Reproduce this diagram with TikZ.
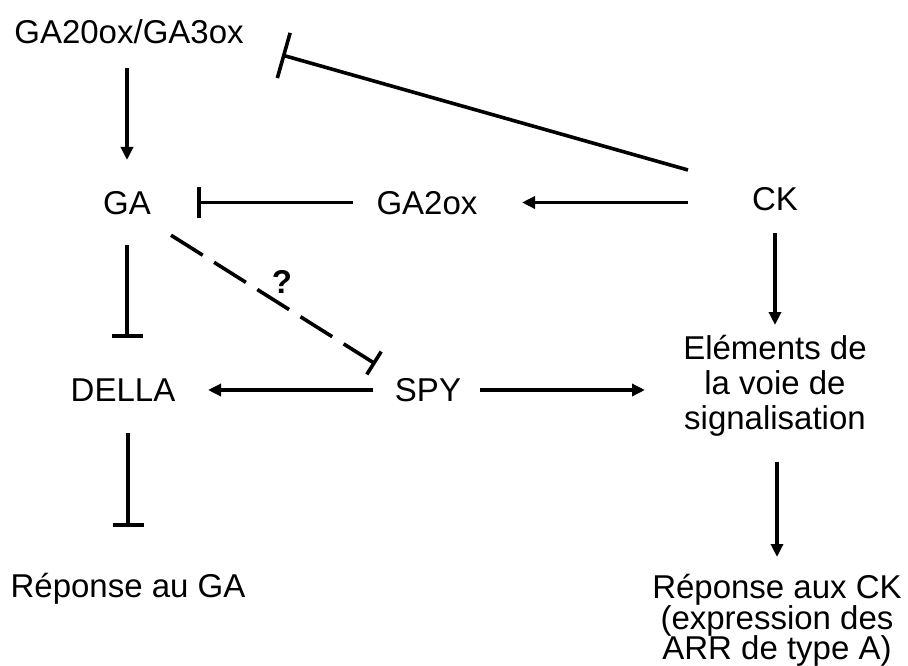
\documentclass[tikz,border=0pt]{standalone}
\usepackage{fontspec}
\setmainfont{Liberation Sans}
\usetikzlibrary{arrows.meta,calc}
\newcommand\mytightlines{\lineskiplimit=-100pt\relax}
\tikzset{
  lbl/.style={inner sep=0pt, text height=23.6pt, text depth=0pt, font=\fontsize{33}{35}\selectfont},
  mlbl/.style={inner sep=0pt, align=center, anchor=north},
  conn/.style={line width=3.6pt},
  act/.style={conn, -{Triangle[length=13pt,width=12pt]}},
  inh/.style={conn, -{Bar[width=31pt]}},
  inhbig/.style={conn, -{Bar[width=47pt]}},
  inhdash/.style={conn, dash pattern=on 37.5pt off 13.5pt, -{Bar[width=27pt]}}
}
\begin{document}
\begin{tikzpicture}[x=1pt,y=-1pt]
\useasboundingbox (0,0) rectangle (908,666);
\node[lbl] (g20) at (129,31.5) {GA20ox/GA3ox};
\node[lbl] (ga) at (127,202.5) {GA};
\node[lbl] (ga2) at (427,202.5) {GA2ox};
\node[lbl] (ck) at (775,199) {CK};
\node[lbl] (della) at (123,390) {DELLA};
\node[lbl] (spy) at (428,390) {SPY};
\node[lbl] (rga) at (128,585.5) {Réponse au GA};
\node[mlbl, font={\fontsize{33}{35}\selectfont\mytightlines}] (ell) at (775,335) {Eléments de\\la voie de\\signalisation};
\node[mlbl, font={\fontsize{33}{30.5}\selectfont\mytightlines}] (rck) at (777,574) {Réponse aux CK\\(expression des\\ARR de type A)};
\node[lbl, font=\fontsize{33}{35}\bfseries\selectfont] (q) at (282,282) {?};

\draw[act, shorten <=36.5pt, shorten >=42.5pt] (ga |- g20) -- (ga.center);
\draw[inh, shorten <=74pt, shorten >=70pt] (ga2.center) -- (ga.center);
\draw[act, shorten <=87pt, shorten >=95pt] (ga2 -| ck) -- (ga2.center);
\draw[inhbig] ($(ck)+(-87,-29)$) -- ($(g20)+(153,23.5)$);
\draw[act, shorten <=34pt, shorten >=10pt] (ck.center) -- (ell.north);
\draw[act, shorten <=25pt, shorten >=17pt] (ell.south -| rck.north) -- (rck.north);
\draw[inh, shorten <=42.5pt, shorten >=52pt] (ga.center) -- (ga |- della);
\draw[inhdash, shorten <=52pt, shorten >=62pt] ($(ga)+(0,5)$) -- ($(spy)+(0,7)$);
\draw[act, shorten <=55pt, shorten >=85pt] (spy.center) -- (della.center);
\draw[act, shorten <=52pt, shorten >=130pt] (spy.center) -- (spy -| ell);
\draw[inh, shorten <=43pt, shorten >=58.5pt] (rga |- della) -- (rga.center);
\end{tikzpicture}
\end{document}
